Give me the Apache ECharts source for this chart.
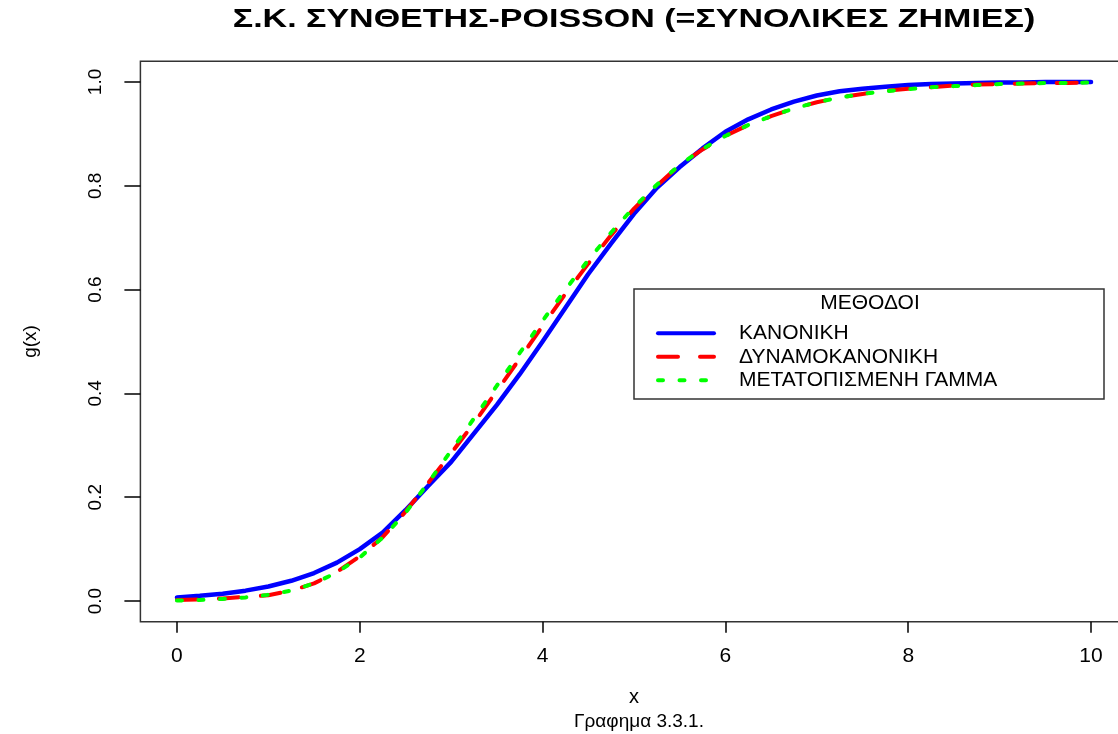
<!DOCTYPE html>
<html>
<head>
<meta charset="utf-8">
<script src="https://cdn.jsdelivr.net/npm/echarts@6/dist/echarts.min.js"></script>
<style>
  html, body { margin: 0; padding: 0; background: #ffffff; }
  #chart { width: 1118px; height: 734px; }
</style>
</head>
<body>
<div id="chart"></div>
<script>
// Evaluation points of the compound-Poisson total-loss distribution function g(x)
const xValues = [0, 0.25, 0.5, 0.75, 1, 1.25, 1.5, 1.75, 2, 2.25, 2.5, 2.75, 3, 3.25, 3.5, 3.75,
  4, 4.25, 4.5, 4.75, 5, 5.25, 5.5, 5.75, 6, 6.25, 6.5, 6.75, 7, 7.25, 7.5, 7.75,
  8, 8.25, 8.5, 8.75, 9, 9.25, 9.5, 9.75, 10];

// Normal approximation
const kanoniki = [0.007, 0.010, 0.014, 0.020, 0.028, 0.039, 0.054, 0.074, 0.100, 0.132, 0.175, 0.222,
  0.268, 0.323, 0.378, 0.437, 0.500, 0.565, 0.630, 0.689, 0.746, 0.796, 0.836, 0.872,
  0.904, 0.928, 0.947, 0.962, 0.974, 0.982, 0.987, 0.991, 0.994, 0.996, 0.997, 0.998,
  0.999, 0.999, 1.000, 1.000, 1.000];
// Normal-power approximation
const dynamokanoniki = [0.002, 0.003, 0.005, 0.008, 0.011, 0.020, 0.034, 0.056, 0.086, 0.123, 0.172, 0.228,
  0.285, 0.343, 0.405, 0.467, 0.530, 0.592, 0.650, 0.705, 0.756, 0.800, 0.840, 0.870,
  0.896, 0.917, 0.934, 0.949, 0.961, 0.970, 0.977, 0.983, 0.987, 0.990, 0.993, 0.995,
  0.996, 0.997, 0.998, 0.998, 0.999];
// Shifted gamma approximation
const metatopismeniGamma = [0.001, 0.002, 0.004, 0.007, 0.012, 0.020, 0.034, 0.055, 0.084, 0.122, 0.170, 0.228,
  0.290, 0.352, 0.415, 0.478, 0.540, 0.600, 0.657, 0.710, 0.759, 0.802, 0.840, 0.871,
  0.896, 0.917, 0.934, 0.949, 0.961, 0.970, 0.977, 0.982, 0.986, 0.990, 0.992, 0.994,
  0.996, 0.997, 0.998, 0.998, 0.999];

const seriesNames = ['ΚΑΝΟΝΙΚΗ', 'ΔΥΝΑΜΟΚΑΝΟΝΙΚΗ', 'ΜΕΤΑΤΟΠΙΣΜΕΝΗ ΓΑΜΜΑ'];
const xTicks = [0, 2, 4, 6, 8, 10];
const yTicks = [0, 0.2, 0.4, 0.6, 0.8, 1.0];

const FONT = '"Liberation Sans", Arial, Helvetica, sans-serif';

function pairs(ys) {
  return xValues.map((x, i) => [x, ys[i]]);
}

const chart = echarts.init(document.getElementById('chart'), null, { renderer: 'canvas' });

const lineBase = {
  type: 'line',
  symbol: 'none',
  smooth: false,
  animation: false
};

chart.setOption({
  backgroundColor: '#ffffff',
  animation: false,
  title: {
    text: 'Γραφημα 3.3.1.',
    left: 634,
    top: 707,
    textAlign: 'center',
    textStyle: { fontFamily: FONT, fontWeight: 'normal', fontSize: 19, color: '#000' }
  },
  grid: {
    left: 140.4,
    top: 61.2,
    width: 987.2,
    height: 560.6,
    outerBoundsMode: 'none',
    show: true,
    borderColor: '#333',
    borderWidth: 1.5,
    backgroundColor: 'transparent',
    containLabel: false
  },
  xAxis: {
    type: 'value',
    min: -0.4,
    max: 10.4,
    name: 'x',
    nameLocation: 'middle',
    nameGap: 66,
    nameTextStyle: { fontFamily: FONT, fontSize: 20, color: '#000' },
    axisLine: { show: false, onZero: false },
    splitLine: { show: false },
    axisTick: {
      show: true,
      inside: false,
      length: 11,
      customValues: xTicks,
      lineStyle: { color: '#000', width: 1.5 }
    },
    axisLabel: {
      customValues: xTicks,
      margin: 24,
      fontFamily: FONT,
      fontSize: 21,
      color: '#000',
      formatter: (v) => String(v)
    }
  },
  yAxis: {
    type: 'value',
    min: -0.04,
    max: 1.04,
    name: 'g(x)',
    nameLocation: 'middle',
    nameRotate: 90,
    nameGap: 100,
    nameTextStyle: { fontFamily: FONT, fontSize: 19, color: '#000' },
    axisLine: { show: false, onZero: false },
    splitLine: { show: false },
    axisTick: {
      show: true,
      inside: false,
      length: 16,
      customValues: yTicks,
      lineStyle: { color: '#000', width: 1.5 }
    },
    axisLabel: {
      customValues: yTicks,
      rotate: 90,
      margin: 35,
      fontFamily: FONT,
      fontSize: 19,
      color: '#000',
      formatter: (v) => Number(v).toFixed(1)
    }
  },
  legend: {
    orient: 'vertical',
    left: 656,
    top: 321.5,
    padding: 0,
    itemWidth: 56,
    itemHeight: 14,
    itemGap: 0,
    itemStyle: { opacity: 0 },
    lineStyle: { width: 4, cap: 'round' },
    data: seriesNames,
    textStyle: {
      fontFamily: FONT,
      fontSize: 21,
      lineHeight: 23.5,
      color: '#000',
      padding: [0, 0, 0, 20]
    }
  },
  graphic: [
    {
      // main heading, widened to the plot's proportions
      type: 'text',
      x: 634,
      y: 20,
      scaleX: 1.36,
      style: {
        text: 'Σ.Κ. ΣΥΝΘΕΤΗΣ-POISSON (=ΣΥΝΟΛΙΚΕΣ ΖΗΜΙΕΣ)',
        fontFamily: FONT,
        fontWeight: 'bold',
        fontSize: 25,
        fill: '#000',
        align: 'center',
        verticalAlign: 'middle'
      },
      silent: true
    },
    {
      // legend frame
      type: 'rect',
      x: 634,
      y: 289,
      shape: { x: 0, y: 0, width: 470, height: 110 },
      style: { fill: 'transparent', stroke: '#333', lineWidth: 1.5 },
      silent: true
    },
    {
      type: 'text',
      x: 870,
      y: 303,
      style: {
        text: 'ΜΕΘΟΔΟΙ',
        fontFamily: FONT,
        fontSize: 21,
        fill: '#000',
        align: 'center',
        verticalAlign: 'middle'
      },
      silent: true
    }
  ],
  series: [
    Object.assign({}, lineBase, {
      name: seriesNames[0],
      data: pairs(kanoniki),
      color: '#0000ff',
      lineStyle: { color: '#0000ff', width: 4.5, type: 'solid', cap: 'round', join: 'round' },
      z: 2
    }),
    Object.assign({}, lineBase, {
      name: seriesNames[1],
      data: pairs(dynamokanoniki),
      color: '#ff0000',
      lineStyle: { color: '#ff0000', width: 4, type: [20, 22], cap: 'round', join: 'round' },
      z: 3
    }),
    Object.assign({}, lineBase, {
      name: seriesNames[2],
      data: pairs(metatopismeniGamma),
      color: '#00ff00',
      lineStyle: { color: '#00ff00', width: 4, type: [5, 16.5], cap: 'round', join: 'round' },
      z: 4
    })
  ]
});
</script>
</body>
</html>
